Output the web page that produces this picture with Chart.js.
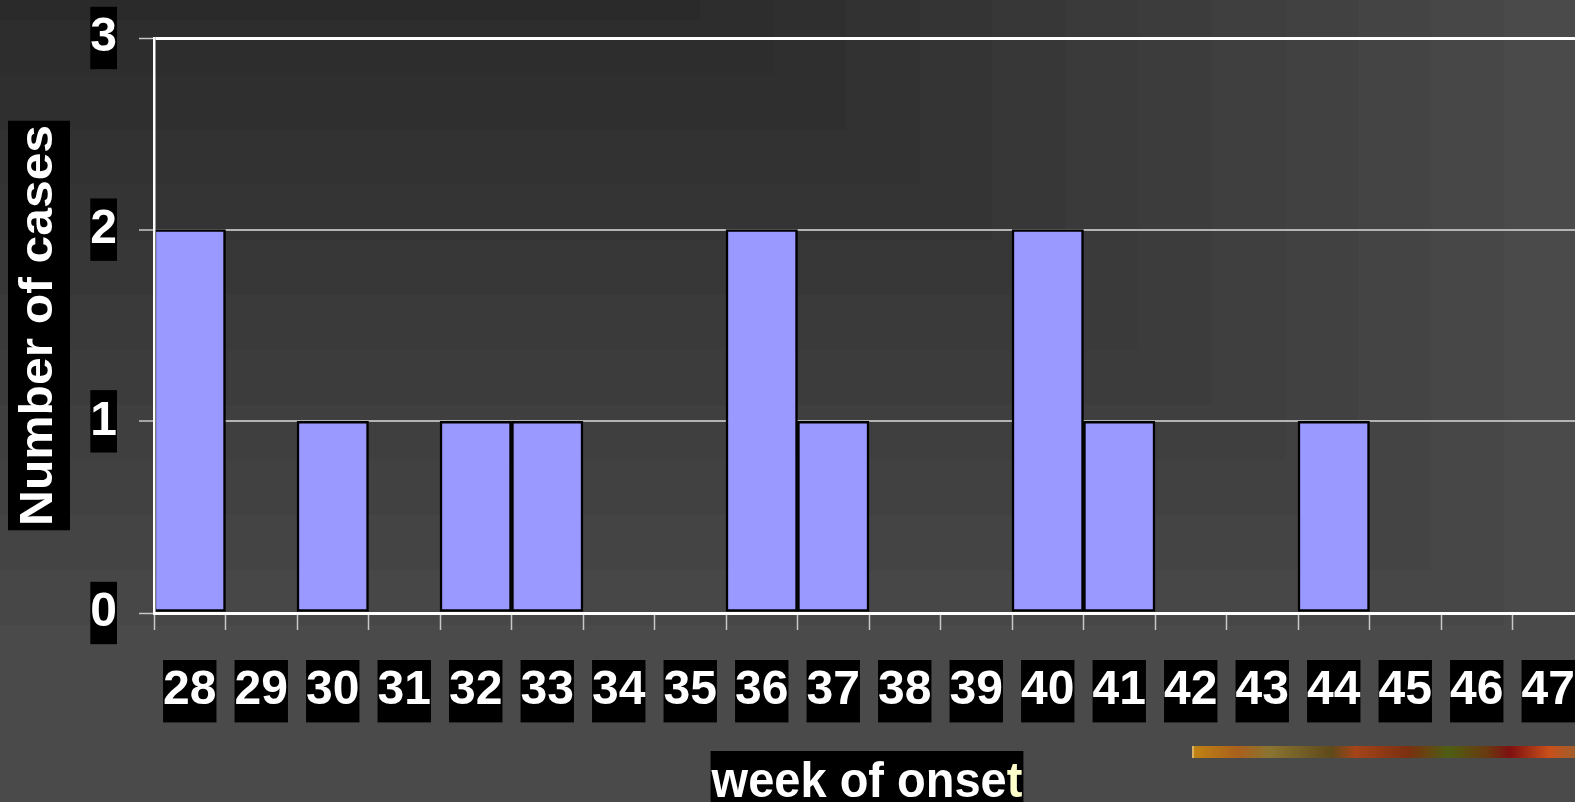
<!DOCTYPE html>
<html>
<head>
<meta charset="utf-8">
<title>Number of cases by week of onset</title>
<script src="https://cdn.jsdelivr.net/npm/chart.js"></script>
<style>
    html, body { margin: 0; padding: 0; overflow: hidden; background: #4a4a4a; }
    #chartBox { position: relative; width: 1600px; height: 802px; }
</style>
</head>
<body>
<div id="chartBox"><canvas id="onsetChart" width="1600" height="802"></canvas></div>
<script>
const weeks = ['28', '29', '30', '31', '32', '33', '34', '35', '36', '37',
               '38', '39', '40', '41', '42', '43', '44', '45', '46', '47'];
const cases = [2, 0, 1, 0, 1, 1, 0, 0, 2, 1, 0, 0, 2, 1, 0, 0, 1, 0, 0, 0];
const yTicks = [0, 1, 2, 3];
const yTitle = 'Number of cases';
const xTitle = 'week of onset';

const FONT = '"Liberation Sans", Arial, sans-serif';

// dark slide background, stepped from the top left corner
const backgroundPlugin = {
    id: 'slideBackground',
    beforeDraw(chart) {
        const c = chart.ctx;
        c.save();
        c.fillStyle = '#4a4a4a';
        c.fillRect(0, 0, chart.width, chart.height);
        for (let k = 11; k >= 0; k--) {
            const h = 20 + 55 * k;
            const w = 673 + 1.33 * h;
            const g = Math.round(42 + 2.6 * k);
            c.fillStyle = `rgb(${g},${g},${g})`;
            c.fillRect(0, 0, w, h);
        }
        c.restore();
    }
};

// axis titles on black boxes + the little picture strip
const titlePlugin = {
    id: 'boxedTitles',
    afterDraw(chart) {
        const c = chart.ctx;
        const area = chart.chartArea;

        // y title, rotated
        c.save();
        c.font = 'bold 46.5px ' + FONT;
        const wy = c.measureText(yTitle).width;
        c.translate(52, (area.top + area.bottom) / 2 + wy * 1.07 / 2);
        c.rotate(-Math.PI / 2);
        c.scale(1.07, 1);
        c.fillStyle = '#000';
        c.fillRect(-4, -44, wy + 8, 62);
        c.fillStyle = '#fff';
        c.textBaseline = 'alphabetic';
        c.fillText(yTitle, 0, 0);
        c.restore();

        // x title, last letter pale yellow
        c.save();
        c.font = 'bold 47px ' + FONT;
        const wx = c.measureText(xTitle).width;
        const head = xTitle.slice(0, -1);
        const left = 867 - wx / 2;
        c.translate(left, 751);
        c.scale(1, 1.07);
        c.fillStyle = '#000';
        c.fillRect(-1, 0, wx + 2, 62);
        c.textBaseline = 'alphabetic';
        c.fillStyle = '#fff';
        c.fillText(head, 0, 43);
        c.fillStyle = '#ffffcc';
        c.fillText(xTitle.slice(-1), c.measureText(head).width, 43);
        c.restore();

        // decorative strip
        c.save();
        const grad = c.createLinearGradient(1192, 0, 1580, 0);
        grad.addColorStop(0, '#c08414');
        grad.addColorStop(0.12, '#a8601c');
        grad.addColorStop(0.2, '#8a7432');
        grad.addColorStop(0.36, '#5e4a1a');
        grad.addColorStop(0.42, '#a4441a');
        grad.addColorStop(0.56, '#7a3010');
        grad.addColorStop(0.66, '#4e5e14');
        grad.addColorStop(0.76, '#6a3a10');
        grad.addColorStop(0.82, '#7e1010');
        grad.addColorStop(0.92, '#c8501a');
        grad.addColorStop(1, '#9a6030');
        c.fillStyle = grad;
        c.fillRect(1192, 746, 400, 12);
        c.fillStyle = '#d8b060';
        c.fillRect(1192, 746, 2, 12);
        c.restore();
    }
};

const tickFont = { family: FONT, size: 48, weight: 'bold', lineHeight: 1.3 };

new Chart(document.getElementById('onsetChart'), {
    type: 'bar',
    data: {
        labels: weeks,
        datasets: [{
            data: cases,
            backgroundColor: '#9999ff',
            borderColor: '#000000',
            borderWidth: 2.5,
            borderSkipped: false,
            barPercentage: 1,
            categoryPercentage: 1
        }]
    },
    options: {
        responsive: false,
        animation: false,
        devicePixelRatio: 1,
        layout: { padding: { top: 38, right: 16, left: 0, bottom: 0 } },
        plugins: {
            legend: { display: false },
            tooltip: { enabled: false }
        },
        scales: {
            x: {
                grid: {
                    offset: true,
                    drawOnChartArea: false,
                    drawTicks: true,
                    tickLength: 17,
                    tickColor: '#c8c8c8',
                    tickWidth: 1.5
                },
                border: { color: '#ffffff', width: 3 },
                ticks: {
                    color: '#ffffff',
                    font: tickFont,
                    padding: 30,
                    autoSkip: false,
                    maxRotation: 0,
                    showLabelBackdrop: true,
                    backdropColor: '#000000',
                    backdropPadding: 0
                },
                afterFit(scale) {
                    scale.height = 189;
                    scale.paddingLeft = 0;
                    scale.paddingRight = 0;
                }
            },
            y: {
                min: 0,
                max: 3,
                afterBuildTicks(scale) {
                    scale.ticks = yTicks.map(v => ({ value: v }));
                },
                grid: {
                    color: ctx => (ctx.tick && (ctx.tick.value === 3 || ctx.tick.value === 0)) ? '#ffffff' : '#b4b4b4',
                    lineWidth: ctx => (ctx.tick && (ctx.tick.value === 3 || ctx.tick.value === 0)) ? 3 : 2,
                    tickLength: 15,
                    tickColor: '#c8c8c8',
                    tickWidth: 1.5
                },
                border: { color: '#ffffff', width: 2.5, z: 1 },
                ticks: {
                    color: '#ffffff',
                    font: tickFont,
                    padding: 22,
                    showLabelBackdrop: true,
                    backdropColor: '#000000',
                    backdropPadding: 0
                },
                afterFit(scale) {
                    scale.width = 154;
                    scale.paddingTop = 0;
                    scale.paddingBottom = 0;
                }
            }
        }
    },
    plugins: [backgroundPlugin, titlePlugin]
});
</script>
</body>
</html>
